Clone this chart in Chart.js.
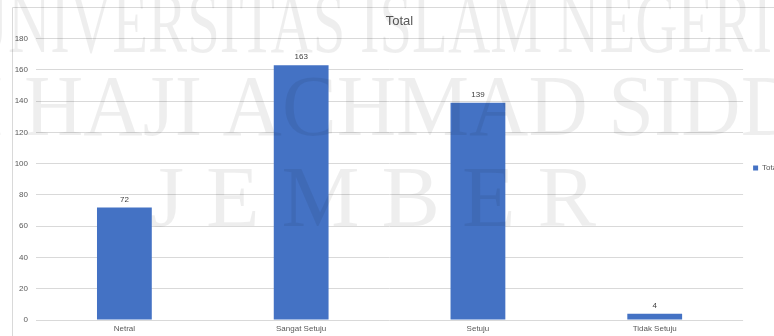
<!DOCTYPE html>
<html>
<head>
<meta charset="utf-8">
<script src="https://cdn.jsdelivr.net/npm/chart.js@4/dist/chart.umd.min.js"></script>
<style>
html,body{margin:0;padding:0;background:#fff;overflow:hidden;}
#wrap{width:774px;height:336px;overflow:hidden;position:relative;}
#box{width:800px;height:336px;position:absolute;left:0;top:0;}
</style>
</head>
<body>
<div id="wrap"><div id="box"><canvas id="c"></canvas></div></div>
<script>
const categories = ["Netral", "Sangat Setuju", "Setuju", "Tidak Setuju"];
const totalValues = [72, 163, 139, 4];
const seriesName = "Total";
const yTicks = [0, 20, 40, 60, 80, 100, 120, 140, 160, 180];
const watermarkLines = ["UNIVERSITAS ISLAM NEGERI", "KIAI HAJI ACHMAD SIDDIQ", "J E M B E R"];

const fontFam = "'Liberation Sans Narrow','Liberation Sans','DejaVu Sans',sans-serif";

const extras = {
  id: 'extras',
  beforeDraw(chart) {
    const ctx = chart.ctx;
    ctx.save();
    ctx.strokeStyle = '#d9d9d9';
    ctx.lineWidth = 1;
    ctx.beginPath();
    ctx.moveTo(12.5, 340);
    ctx.lineTo(12.5, 7.5);
    ctx.lineTo(820, 7.5);
    ctx.stroke();
    ctx.restore();
  },
  afterDatasetsDraw(chart) {
    const ctx = chart.ctx;
    const meta = chart.getDatasetMeta(0);
    ctx.save();
    ctx.fillStyle = '#404040';
    ctx.font = "8px " + fontFam;
    ctx.textAlign = 'center';
    ctx.textBaseline = 'bottom';
    meta.data.forEach((bar, i) => {
      ctx.fillText(String(chart.data.datasets[0].data[i]), bar.x, bar.y - 4);
    });
    ctx.restore();
  },
  afterDraw(chart) {
    const ctx = chart.ctx;
    ctx.save();
    ctx.fillStyle = 'rgba(0,0,0,0.065)';
    ctx.textBaseline = 'alphabetic';
    ctx.textAlign = 'left';
    const fs = 86;
    ctx.font = fs + "px 'Liberation Serif','DejaVu Serif',serif";
    function drawFit(full, hiddenPrefix, visible, x0, x1, baseline) {
      const wVis = ctx.measureText(visible).width;
      const sx = (x1 - x0) / wVis;
      const wPre = ctx.measureText(hiddenPrefix).width * sx;
      ctx.save();
      ctx.translate(x0 - wPre, baseline);
      ctx.scale(sx, 1);
      ctx.fillText(full, 0, 0);
      ctx.restore();
    }
    drawFit(watermarkLines[0], "U", "UNIVERSITAS ISLAM NEGERI".slice(1), 8, 772, 52);
    drawFit(watermarkLines[1], "KIAI ", "HAJI ACHMAD SIDD", 24, 800, 135);
    drawFit(watermarkLines[2], "", watermarkLines[2], 150, 596, 226);
    ctx.restore();
  }
};

new Chart(document.getElementById('c'), {
  type: 'bar',
  data: {
    labels: categories,
    datasets: [{
      label: seriesName,
      data: totalValues,
      backgroundColor: '#4472C4',
      borderWidth: 0,
      barPercentage: 0.31,
      categoryPercentage: 1.0
    }]
  },
  options: {
    responsive: true,
    maintainAspectRatio: false,
    animation: false,
    devicePixelRatio: 1,
    layout: { padding: { left: 10, right: 11, top: 0, bottom: 0 } },
    plugins: {
      title: {
        display: true,
        text: seriesName,
        color: '#595959',
        font: { family: fontFam, size: 13, weight: 'normal' },
        padding: { top: 14, bottom: 9 }
      },
      legend: {
        display: true,
        position: 'right',
        align: 'center',
        labels: {
          boxWidth: 5,
          boxHeight: 5,
          padding: 10,
          color: '#595959',
          font: { family: fontFam, size: 8 }
        }
      },
      tooltip: { enabled: false }
    },
    scales: {
      x: {
        grid: { display: false, drawTicks: false },
        border: { display: false },
        ticks: { color: '#595959', font: { family: fontFam, size: 8 }, padding: 4, maxRotation: 0 },
        afterFit(s) { s.height = 16; }
      },
      y: {
        min: 0,
        max: 180,
        grid: { color: '#d9d9d9', drawTicks: false },
        border: { display: false },
        afterBuildTicks(s) { s.ticks = yTicks.map(v => ({ value: v })); },
        ticks: { color: '#595959', font: { family: fontFam, size: 8 }, padding: 8 },
        afterFit(s) { s.width = 26; }
      }
    }
  },
  plugins: [extras]
});
</script>
</body>
</html>
